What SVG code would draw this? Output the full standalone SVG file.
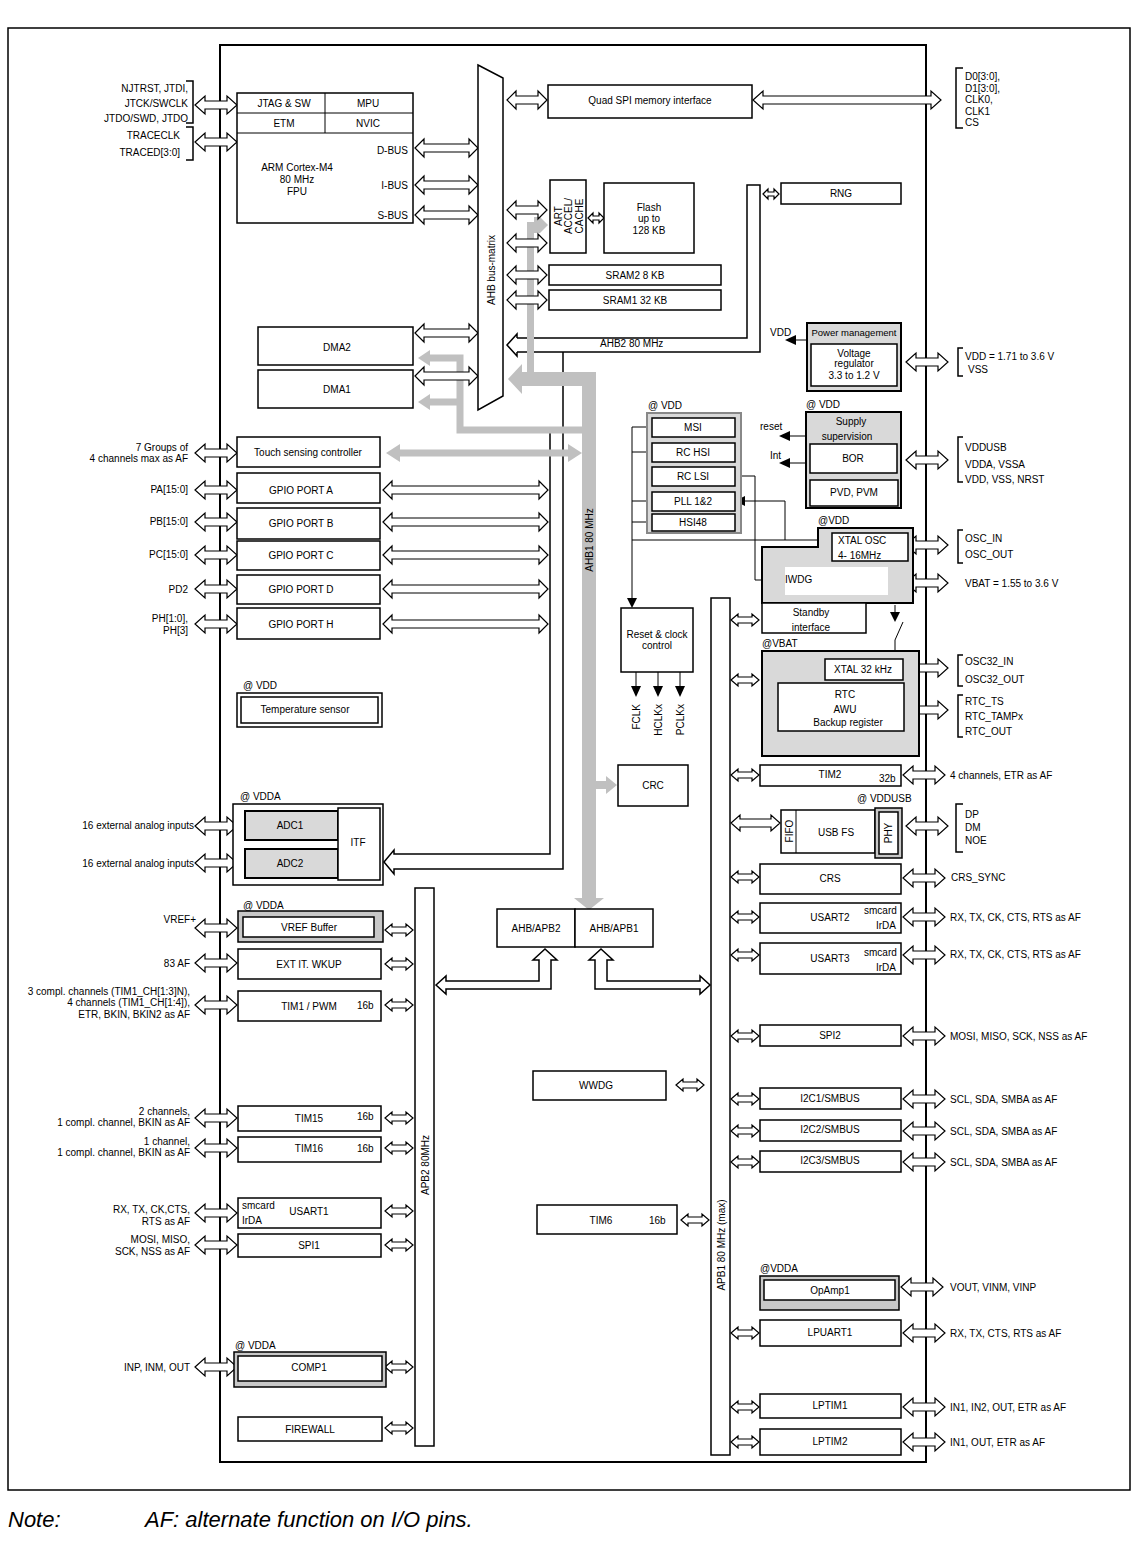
<svg xmlns="http://www.w3.org/2000/svg" width="1137" height="1557" viewBox="0 0 1137 1557">
<style>
.b{fill:#fff;stroke:#000;stroke-width:1.5}
.n{fill:none;stroke:#000;stroke-width:1.5}
.w{fill:none;stroke:#000;stroke-width:1}
.g{fill:#d9d9d9;stroke:#000;stroke-width:2}
.gb{fill:#c0c0c0}
.gl{fill:none;stroke:#c0c0c0;stroke-width:7}
.k{fill:#000}
text{font-family:"Liberation Sans",Arial,sans-serif;font-size:10px;fill:#000}
.m{text-anchor:middle}
.e{text-anchor:end}
.it{font-style:italic;font-size:22px}
</style>
<defs>
<path id="pL" d="M0,0 l10,-9 v5 h22 v-5 l10,9 l-10,9 v-5 h-22 v5 z" fill="#fff" stroke="#000" stroke-width="1.2"/>
<path id="pS" d="M0,0 l7,-6 v3 h14 v-3 l7,6 l-7,6 v-3 h-14 v3 z" fill="#fff" stroke="#000" stroke-width="1.2"/>
<path id="pM" d="M0,0 l9,-9 v5 h22 v-5 l9,9 l-9,9 v-5 h-22 v5 z" fill="#fff" stroke="#000" stroke-width="1.2"/>
<path id="pC" d="M0,0 l9,-9 v5 h45 v-5 l9,9 l-9,9 v-5 h-45 v5 z" fill="#fff" stroke="#000" stroke-width="1.2"/>
<path id="pG" d="M0,0 l9,-9 v5 h147 v-5 l9,9 l-9,9 v-5 h-147 v5 z" fill="#fff" stroke="#000" stroke-width="1.2"/>
<path id="pT" d="M0,0 l5,-5 v3 h6 v-3 l5,5 l-5,5 v-3 h-6 v3 z" fill="#fff" stroke="#000" stroke-width="1.2"/>
</defs>
<rect x="8" y="28" width="1122" height="1462" fill="#fff" stroke="#000" stroke-width="1.5"/>
<rect x="220" y="45" width="706" height="1417" fill="none" stroke="#000" stroke-width="2"/>

<g id="connectors">
<path class="n" d="M517,338 H747 V185 H760 V352 H517"/>
<path class="n" d="M517,338 V334 L507,345 L517,356 V352"/>
<path class="n" d="M563,352 V869 H394 V874 L384,862 L394,850 V854 H550 V430"/>
<path class="b" d="M436,985 L446,976 V981 H539 V960 H533 L545,949 L557,960 H551 V989 H446 V994 Z"/>
<path class="b" d="M601,949 L613,960 H607 V981 H700 V976 L710,985 L700,994 V989 H595 V960 H589 Z"/>
<rect class="gb" x="527" y="222" width="7" height="160"/>
<polygon class="gb" points="534,217 540,217 548,225 540,233 534,233"/>
<path class="gl" d="M428,358 H460 V430 H582 M428,402 H460"/>
<polygon class="gb" points="418,358 430,350 430,366"/>
<polygon class="gb" points="418,402 430,394 430,410"/>
<path class="gb" d="M596,372 H522 V364 L508,379 L522,394 V386 H582 V898 H574 L589,910 L604,898 H596 Z"/>
<line x1="398" y1="453" x2="570" y2="453" stroke="#c0c0c0" stroke-width="7"/>
<polygon class="gb" points="386,453 400,444 400,462"/>
<polygon class="gb" points="582,453 568,444 568,462"/>
<rect class="gb" x="596" y="781" width="11" height="8"/>
<polygon class="gb" points="606,776 617,785 606,794"/>
<use href="#pC" x="415" y="148"/><use href="#pC" x="415" y="185"/><use href="#pC" x="415" y="215"/>
<use href="#pC" x="415" y="333"/><use href="#pC" x="415" y="376"/>
<use href="#pM" x="507" y="100"/><use href="#pM" x="507" y="210"/><use href="#pM" x="507" y="243"/>
<use href="#pM" x="507" y="275"/><use href="#pM" x="507" y="300"/>
<use href="#pT" x="588" y="218"/><use href="#pT" x="763" y="194"/>
<path d="M753,100 l10,-9 v5 h168 v-5 l10,9 l-10,9 v-5 h-168 v5 z" fill="#fff" stroke="#000" stroke-width="1.2"/>
<use href="#pG" x="383" y="490"/><use href="#pG" x="383" y="522"/><use href="#pG" x="383" y="555"/>
<use href="#pG" x="383" y="589"/><use href="#pG" x="383" y="624"/>
<use href="#pL" x="195" y="105"/><use href="#pL" x="195" y="142"/><use href="#pL" x="195" y="453"/>
<use href="#pL" x="195" y="490"/><use href="#pL" x="195" y="522"/><use href="#pL" x="195" y="555"/>
<use href="#pL" x="195" y="589"/><use href="#pL" x="195" y="624"/><use href="#pL" x="195" y="826"/>
<use href="#pL" x="195" y="863"/><use href="#pL" x="195" y="928"/><use href="#pL" x="195" y="963"/>
<use href="#pL" x="195" y="1005"/><use href="#pL" x="195" y="1118"/><use href="#pL" x="195" y="1148"/>
<use href="#pL" x="195" y="1213"/><use href="#pL" x="195" y="1245"/><use href="#pL" x="195" y="1367"/>
<use href="#pS" x="385" y="930"/><use href="#pS" x="385" y="964"/><use href="#pS" x="385" y="1005"/>
<use href="#pS" x="385" y="1118"/><use href="#pS" x="385" y="1148"/><use href="#pS" x="385" y="1211"/>
<use href="#pS" x="385" y="1245"/><use href="#pS" x="385" y="1367"/><use href="#pS" x="385" y="1428"/>
<use href="#pS" x="676" y="1085"/><use href="#pS" x="681" y="1220"/>
<use href="#pS" x="731" y="620"/><use href="#pS" x="731" y="680"/><use href="#pS" x="731" y="775"/>
<path d="M731,823 l9,-8 v4 h31 v-4 l9,8 l-9,8 v-4 h-31 v4 z" fill="#fff" stroke="#000" stroke-width="1.2"/>
<use href="#pS" x="731" y="877"/><use href="#pS" x="731" y="917"/><use href="#pS" x="731" y="955"/>
<use href="#pS" x="731" y="1036"/><use href="#pS" x="731" y="1099"/><use href="#pS" x="731" y="1131"/>
<use href="#pS" x="731" y="1162"/><use href="#pS" x="731" y="1333"/><use href="#pS" x="731" y="1407"/>
<use href="#pS" x="731" y="1442"/>
<use href="#pL" x="906" y="362"/><use href="#pL" x="906" y="460"/><use href="#pL" x="906" y="545"/>
<use href="#pL" x="906" y="583"/><use href="#pL" x="906" y="668"/><use href="#pL" x="906" y="710"/>
<use href="#pL" x="903" y="775"/><use href="#pL" x="906" y="826"/><use href="#pL" x="903" y="878"/>
<use href="#pL" x="903" y="917"/><use href="#pL" x="903" y="955"/><use href="#pL" x="903" y="1036"/>
<use href="#pL" x="903" y="1099"/><use href="#pL" x="903" y="1131"/><use href="#pL" x="903" y="1162"/>
<use href="#pL" x="901" y="1287"/><use href="#pL" x="903" y="1333"/><use href="#pL" x="903" y="1407"/>
<use href="#pL" x="903" y="1442"/>
<path class="w" d="M632,427 V600 M632,427 H652 M632,452 H652 M632,501 H652 M632,522 H652 M632,540 H818"/>
<polygon class="k" points="627,598 637,598 632,608"/>
<path class="w" d="M785,540 V501 H745"/><polygon class="k" points="745,496 745,506 735,501"/>
<path class="w" d="M735,476 H755 V580 H773"/><polygon class="k" points="773,575 773,585 783,580"/>
<path class="w" d="M807,340 H795"/><polygon class="k" points="796,335 796,345 785,340"/>
<path class="w" d="M806,436 H790"/><polygon class="k" points="790,431 790,441 779,436"/>
<path class="w" d="M806,463 H790"/><polygon class="k" points="790,458 790,468 779,463"/>
<path class="w" d="M825,670 H808 V675"/><polygon class="k" points="803,675 813,675 808,684"/>
<path class="w" d="M895,605 V612 M903,622 L895,640 V651"/><polygon class="k" points="890,612 900,612 895,622"/>
<path class="w" d="M636,672 V688 M658,672 V688 M680,672 V688"/>
<polygon class="k" points="631,686 641,686 636,697"/><polygon class="k" points="653,686 663,686 658,697"/><polygon class="k" points="675,686 685,686 680,697"/>
<path class="n" d="M186,81 H193 V123 H186 M186,127 H193 V160 H186"/>
<path class="n" d="M963,68 H956 V128 H963 M963,348 H958 V376 H963 M963,437 H958 V482 H963 M963,530 H958 V563 H963 M963,655 H958 V686 H963 M963,695 H958 V737 H963 M963,804 H956 V852 H963"/>
</g>

<g id="bus-matrix">
<polygon class="b" points="478,65 503,78 503,396 478,410"/>
<text class="m" transform="translate(495,270) rotate(-90)">AHB bus-matrix</text>
</g>
<g id="core">
<rect class="b" x="237" y="93" width="176" height="130"/>
<path class="w" d="M237,113 H413 M237,133 H413 M325,93 V133"/>
<text class="m" x="284" y="107">JTAG &amp; SW</text><text class="m" x="368" y="107">MPU</text>
<text class="m" x="284" y="127">ETM</text><text class="m" x="368" y="127">NVIC</text>
<text class="m" x="297" y="171">ARM Cortex-M4</text><text class="m" x="297" y="183">80 MHz</text><text class="m" x="297" y="195">FPU</text>
<text class="e" x="408" y="154">D-BUS</text><text class="e" x="408" y="189">I-BUS</text><text class="e" x="408" y="219">S-BUS</text>
</g>
<g id="dma2"><rect class="b" x="258" y="327" width="155" height="38"/><text class="m" x="337" y="351">DMA2</text></g>
<g id="dma1"><rect class="b" x="258" y="370" width="155" height="38"/><text class="m" x="337" y="393">DMA1</text></g>
<g id="quadspi"><rect class="b" x="548" y="85" width="204" height="33"/><text class="m" x="650" y="104">Quad SPI memory interface</text></g>
<g id="art"><rect class="b" x="550" y="180" width="36" height="73"/>
<text class="m" transform="translate(562,216) rotate(-90)">ART</text>
<text class="m" transform="translate(572,216) rotate(-90)">ACCEL/</text>
<text class="m" transform="translate(583,216) rotate(-90)">CACHE</text></g>
<g id="flash"><rect class="b" x="604" y="183" width="90" height="70"/>
<text class="m" x="649" y="211">Flash</text><text class="m" x="649" y="222">up to</text><text class="m" x="649" y="234">128 KB</text></g>
<g id="sram2"><rect class="b" x="549" y="265" width="172" height="20"/><text class="m" x="635" y="279">SRAM2 8 KB</text></g>
<g id="sram1"><rect class="b" x="549" y="290" width="172" height="20"/><text class="m" x="635" y="304">SRAM1 32 KB</text></g>
<text x="600" y="347">AHB2 80 MHz</text>
<g id="rng"><rect class="b" x="781" y="183" width="120" height="21"/><text class="m" x="841" y="197">RNG</text></g>
<g id="power"><rect class="g" x="807" y="323" width="94" height="68"/>
<text class="m" x="854" y="336" style="font-size:9.5px">Power management</text>
<rect class="b" x="811" y="344" width="86" height="42" stroke-width="2"/>
<text class="m" x="854" y="357">Voltage</text><text class="m" x="854" y="367">regulator</text><text class="m" x="854" y="379">3.3 to 1.2 V</text>
<text x="770" y="336">VDD</text></g>
<g id="supply"><text x="806" y="408">@ VDD</text><rect class="g" x="806" y="412" width="95" height="96"/>
<text class="m" x="851" y="425">Supply</text><text class="m" x="847" y="440">supervision</text>
<rect class="b" x="810" y="444" width="87" height="29" stroke-width="2"/><text class="m" x="853" y="462">BOR</text>
<rect class="b" x="810" y="480" width="88" height="26" stroke-width="2"/><text class="m" x="854" y="496">PVD, PVM</text>
<text x="760" y="430">reset</text><text x="770" y="459">Int</text></g>
<g id="osc"><text x="648" y="409">@ VDD</text><rect fill="#d9d9d9" stroke="#888" stroke-width="2" x="647" y="413" width="94" height="120"/>
<rect class="b" x="652" y="418" width="83" height="19"/><text class="m" x="693" y="431">MSI</text>
<rect class="b" x="652" y="443" width="83" height="19"/><text class="m" x="693" y="456">RC HSI</text>
<rect class="b" x="652" y="467" width="83" height="19"/><text class="m" x="693" y="480">RC LSI</text>
<rect class="b" x="652" y="492" width="83" height="19"/><text class="m" x="693" y="505">PLL 1&amp;2</text>
<rect class="b" x="652" y="514" width="83" height="17"/><text class="m" x="693" y="526">HSI48</text></g>
<g id="vdd-domain"><text x="818" y="524">@VDD</text>
<polygon fill="#d9d9d9" stroke="#000" stroke-width="2" points="762,547 818,547 818,528 913,528 913,603 762,603"/>
<rect class="b" x="832" y="533" width="76" height="28" stroke-width="2"/>
<text x="838" y="544">XTAL OSC</text><text x="838" y="559">4- 16MHz</text>
<rect fill="#fff" x="785" y="567" width="103" height="28"/><text x="785" y="583">IWDG</text>
<rect class="b" x="762" y="603" width="104" height="30" stroke-width="2"/>
<text class="m" x="811" y="616">Standby</text><text class="m" x="811" y="631">interface</text></g>
<g id="vbat"><text x="762" y="647">@VBAT</text><rect class="g" x="762" y="651" width="157" height="105"/>
<rect class="b" x="825" y="659" width="78" height="21" stroke-width="2"/><text class="m" x="863" y="673">XTAL 32 kHz</text>
<rect class="b" x="778" y="683" width="126" height="48" stroke-width="2"/>
<text class="m" x="845" y="698">RTC</text><text class="m" x="845" y="713">AWU</text><text class="m" x="848" y="726">Backup register</text></g>
<g id="rcc"><rect class="b" x="621" y="608" width="72" height="64" stroke-width="2"/>
<text class="m" x="657" y="638">Reset &amp; clock</text><text class="m" x="657" y="649">control</text>
<text class="e" transform="translate(640,704) rotate(-90)">FCLK</text>
<text class="e" transform="translate(662,704) rotate(-90)">HCLKx</text>
<text class="e" transform="translate(684,704) rotate(-90)">PCLKx</text></g>
<text class="m" transform="translate(593,540) rotate(-90)">AHB1 80 MHz</text>
<g id="crc"><rect class="b" x="618" y="765" width="70" height="41"/><text class="m" x="653" y="789">CRC</text></g>
<g id="touch"><rect class="b" x="237" y="437" width="143" height="30"/><text class="m" x="308" y="456">Touch sensing controller</text></g>
<g id="gpioa"><rect class="b" x="237" y="473" width="143" height="30"/><text class="m" x="301" y="494">GPIO PORT A</text></g>
<g id="gpiob"><rect class="b" x="237" y="508" width="143" height="31"/><text class="m" x="301" y="527">GPIO PORT B</text></g>
<g id="gpioc"><rect class="b" x="237" y="541" width="143" height="29"/><text class="m" x="301" y="559">GPIO PORT C</text></g>
<g id="gpiod"><rect class="b" x="237" y="575" width="143" height="29"/><text class="m" x="301" y="593">GPIO PORT D</text></g>
<g id="gpioh"><rect class="b" x="237" y="608" width="143" height="31"/><text class="m" x="301" y="628">GPIO PORT H</text></g>
<g id="temp"><text x="243" y="689">@ VDD</text><rect class="b" x="237" y="693" width="145" height="34" stroke-width="2"/>
<rect class="b" x="241" y="697" width="137" height="26" stroke-width="2"/><text class="m" x="305" y="713">Temperature sensor</text></g>
<g id="adc"><text x="240" y="800">@ VDDA</text><rect class="b" x="233" y="804" width="150" height="81"/>
<rect class="g" x="245" y="811" width="93" height="29" stroke-width="1.5"/><text class="m" x="290" y="829">ADC1</text>
<rect class="g" x="245" y="849" width="93" height="29" stroke-width="1.5"/><text class="m" x="290" y="867">ADC2</text>
<rect class="b" x="338" y="808" width="42" height="72"/><text class="m" x="358" y="846">ITF</text></g>
<g id="vref"><text x="243" y="909">@ VDDA</text><rect fill="#c8c8c8" stroke="#000" stroke-width="1.5" x="238" y="911" width="145" height="31"/>
<rect class="b" x="243" y="917" width="131" height="20"/><text class="m" x="309" y="931">VREF Buffer</text></g>
<g id="extit"><rect class="b" x="238" y="949" width="143" height="30"/><text class="m" x="309" y="968">EXT IT. WKUP</text></g>
<g id="tim1"><rect class="b" x="238" y="991" width="143" height="30"/><text class="m" x="309" y="1010">TIM1 / PWM</text><text x="357" y="1009">16b</text></g>
<g id="tim15"><rect class="b" x="238" y="1106" width="143" height="25"/><text class="m" x="309" y="1122">TIM15</text><text x="357" y="1120">16b</text></g>
<g id="tim16"><rect class="b" x="238" y="1137" width="143" height="25"/><text class="m" x="309" y="1152">TIM16</text><text x="357" y="1152">16b</text></g>
<g id="usart1"><rect class="b" x="238" y="1198" width="143" height="30"/><text x="242" y="1209">smcard</text><text x="242" y="1224">IrDA</text><text class="m" x="309" y="1215">USART1</text></g>
<g id="spi1"><rect class="b" x="238" y="1234" width="143" height="23"/><text class="m" x="309" y="1249">SPI1</text></g>
<g id="comp1"><text x="235" y="1349">@ VDDA</text><rect fill="#c8c8c8" stroke="#000" stroke-width="1.5" x="234" y="1352" width="152" height="35"/>
<rect class="b" x="238" y="1356" width="144" height="25"/><text class="m" x="309" y="1371">COMP1</text></g>
<g id="firewall"><rect class="b" x="238" y="1417" width="144" height="24"/><text class="m" x="310" y="1433">FIREWALL</text></g>
<g id="apb2"><rect class="b" x="415" y="888" width="19" height="558"/><text class="m" transform="translate(429,1165) rotate(-90)">APB2 80MHz</text></g>
<g id="ahbapb2"><rect class="b" x="497" y="909" width="78" height="38"/><text class="m" x="536" y="932">AHB/APB2</text></g>
<g id="ahbapb1"><rect class="b" x="575" y="909" width="78" height="38"/><text class="m" x="614" y="932">AHB/APB1</text></g>
<g id="wwdg"><rect class="b" x="533" y="1071" width="133" height="29"/><text class="m" x="596" y="1089">WWDG</text></g>
<g id="tim6"><rect class="b" x="537" y="1205" width="140" height="29"/><text class="m" x="601" y="1224">TIM6</text><text x="649" y="1224">16b</text></g>
<g id="apb1"><rect class="b" x="711" y="598" width="19" height="857"/><text class="m" transform="translate(725,1245) rotate(-90)">APB1 80 MHz (max)</text></g>
<g id="tim2"><rect class="b" x="760" y="765" width="141" height="21"/><text class="m" x="830" y="778">TIM2</text><text x="879" y="782">32b</text></g>
<g id="usb"><text x="857" y="802">@ VDDUSB</text>
<rect class="b" x="781" y="810" width="94" height="43"/><line class="w" x1="796" y1="810" x2="796" y2="853"/>
<text class="m" transform="translate(793,831) rotate(-90)">FIFO</text><text class="m" x="836" y="836">USB FS</text>
<rect fill="#c8c8c8" stroke="#000" stroke-width="1.5" x="875" y="808" width="27" height="50"/>
<rect class="b" x="879" y="812" width="19" height="42"/><text class="m" transform="translate(892,833) rotate(-90)">PHY</text></g>
<g id="crs"><rect class="b" x="760" y="864" width="141" height="30"/><text class="m" x="830" y="882">CRS</text></g>
<g id="usart2"><rect class="b" x="760" y="903" width="141" height="30"/><text class="m" x="830" y="921">USART2</text><text x="864" y="914">smcard</text><text x="876" y="929">IrDA</text></g>
<g id="usart3"><rect class="b" x="760" y="943" width="141" height="31"/><text class="m" x="830" y="962">USART3</text><text x="864" y="956">smcard</text><text x="876" y="971">IrDA</text></g>
<g id="spi2"><rect class="b" x="760" y="1025" width="141" height="21"/><text class="m" x="830" y="1039">SPI2</text></g>
<g id="i2c1"><rect class="b" x="760" y="1088" width="141" height="21"/><text class="m" x="830" y="1102">I2C1/SMBUS</text></g>
<g id="i2c2"><rect class="b" x="760" y="1120" width="141" height="21"/><text class="m" x="830" y="1133">I2C2/SMBUS</text></g>
<g id="i2c3"><rect class="b" x="760" y="1151" width="141" height="21"/><text class="m" x="830" y="1164">I2C3/SMBUS</text></g>
<g id="opamp"><text x="760" y="1272">@VDDA</text><rect fill="#c8c8c8" stroke="#000" stroke-width="1.5" x="760" y="1276" width="139" height="34"/>
<rect class="b" x="764" y="1280" width="131" height="20"/><text class="m" x="830" y="1294">OpAmp1</text></g>
<g id="lpuart"><rect class="b" x="760" y="1320" width="141" height="26"/><text class="m" x="830" y="1336">LPUART1</text></g>
<g id="lptim1"><rect class="b" x="760" y="1394" width="141" height="24"/><text class="m" x="830" y="1409">LPTIM1</text></g>
<g id="lptim2"><rect class="b" x="760" y="1429" width="141" height="26"/><text class="m" x="830" y="1445">LPTIM2</text></g>

<g id="left-pins">
<text class="e" x="188" y="92">NJTRST, JTDI,</text><text class="e" x="188" y="107">JTCK/SWCLK</text><text class="e" x="188" y="122">JTDO/SWD, JTDO</text>
<text class="e" x="180" y="139">TRACECLK</text><text class="e" x="180" y="156">TRACED[3:0]</text>
<text class="e" x="188" y="451">7 Groups of</text><text class="e" x="188" y="462">4 channels max as AF</text>
<text class="e" x="188" y="493">PA[15:0]</text><text class="e" x="188" y="525">PB[15:0]</text><text class="e" x="188" y="558">PC[15:0]</text>
<text class="e" x="188" y="593">PD2</text><text class="e" x="188" y="622">PH[1:0],</text><text class="e" x="188" y="634">PH[3]</text>
<text class="e" x="194" y="829">16 external analog inputs</text><text class="e" x="194" y="867">16 external analog inputs</text>
<text class="e" x="196" y="923">VREF+</text><text class="e" x="190" y="967">83 AF</text>
<text class="e" x="190" y="995">3 compl. channels (TIM1_CH[1:3]N),</text><text class="e" x="190" y="1006">4 channels (TIM1_CH[1:4]),</text><text class="e" x="190" y="1018">ETR, BKIN, BKIN2 as AF</text>
<text class="e" x="190" y="1115">2 channels,</text><text class="e" x="190" y="1126">1 compl. channel, BKIN as AF</text>
<text class="e" x="190" y="1145">1 channel,</text><text class="e" x="190" y="1156">1 compl. channel, BKIN as AF</text>
<text class="e" x="190" y="1213">RX, TX, CK,CTS,</text><text class="e" x="190" y="1225">RTS as AF</text>
<text class="e" x="190" y="1243">MOSI, MISO,</text><text class="e" x="190" y="1255">SCK, NSS as AF</text>
<text class="e" x="190" y="1371">INP, INM, OUT</text>
</g>
<g id="right-pins">
<text x="965" y="80">D0[3:0],</text><text x="965" y="92">D1[3:0],</text><text x="965" y="103">CLK0,</text><text x="965" y="115">CLK1</text><text x="965" y="126">CS</text>
<text x="965" y="360">VDD = 1.71 to 3.6 V</text><text x="968" y="373">VSS</text>
<text x="965" y="451">VDDUSB</text><text x="965" y="468">VDDA, VSSA</text><text x="965" y="483">VDD, VSS, NRST</text>
<text x="965" y="542">OSC_IN</text><text x="965" y="558">OSC_OUT</text>
<text x="965" y="587">VBAT = 1.55 to 3.6 V</text>
<text x="965" y="665">OSC32_IN</text><text x="965" y="683">OSC32_OUT</text>
<text x="965" y="705">RTC_TS</text><text x="965" y="720">RTC_TAMPx</text><text x="965" y="735">RTC_OUT</text>
<text x="950" y="779">4 channels, ETR as AF</text>
<text x="965" y="818">DP</text><text x="965" y="831">DM</text><text x="965" y="844">NOE</text>
<text x="951" y="881">CRS_SYNC</text>
<text x="950" y="921">RX, TX, CK, CTS, RTS as AF</text><text x="950" y="958">RX, TX, CK, CTS, RTS as AF</text>
<text x="950" y="1040">MOSI, MISO, SCK, NSS as AF</text>
<text x="950" y="1103">SCL, SDA, SMBA as AF</text><text x="950" y="1135">SCL, SDA, SMBA as AF</text><text x="950" y="1166">SCL, SDA, SMBA as AF</text>
<text x="950" y="1291">VOUT, VINM, VINP</text>
<text x="950" y="1337">RX, TX, CTS, RTS as AF</text>
<text x="950" y="1411">IN1, IN2, OUT, ETR as AF</text><text x="950" y="1446">IN1, OUT, ETR as AF</text>
</g>
<text class="it" x="8" y="1527">Note:</text>
<text class="it" x="145" y="1527">AF: alternate function on I/O pins.</text>
</svg>
